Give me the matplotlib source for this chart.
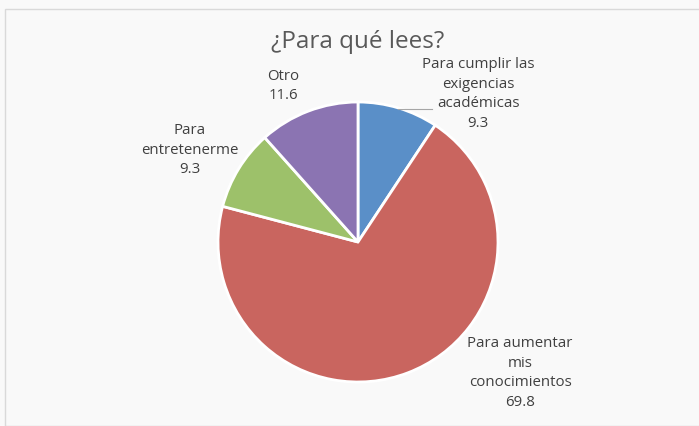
import matplotlib.pyplot as plt
from matplotlib.patches import Rectangle

labels = ["Para cumplir las\nexigencias\nacadémicas", "Para aumentar\nmis\nconocimientos", "Para\nentretenerme", "Otro"]
values = [9.3, 69.8, 9.3, 11.6]
colors = ["#5A8FC8", "#C9655F", "#9DC16A", "#8B74B2"]

W, H = 699, 427
fig = plt.figure(figsize=(W/100, H/100), dpi=100)
fig.patch.set_facecolor("#f9f9f9")
fig.patches.append(Rectangle((5/W, 0), 1, 1-10/H, transform=fig.transFigure,
                             fill=False, edgecolor="#d9d9d9", lw=1))
ax = fig.add_axes([0, 0, 1, 1])

cx, cy, r = 358, H-243, 140
wedges, _ = ax.pie(values, colors=colors, startangle=90, counterclock=False,
                   center=(cx, cy), radius=r, frame=True,
                   wedgeprops=dict(edgecolor="white", linewidth=2))
ax.set_xlim(0, W)
ax.set_ylim(0, H)
ax.set_aspect("equal")
ax.axis("off")

plt.rcParams['font.family'] = ['Open Sans', 'DejaVu Sans']
tcol = "#404040"
ax.text(358, H-42, "¿Para qué lees?", ha="center", va="center", fontsize=17.5, color="#595959")

# label centres (pixel coords from top)
pos = [(478, 94), (520, 373), (190, 150), (283, 86)]
for lab, v, (x, y) in zip(labels, values, pos):
    ax.text(x, H-y, lab + "\n" + str(v), ha="center", va="center", fontsize=10.8,
            color=tcol, linespacing=1.45)

# leader line for the first slice
ax.plot([398, 432], [H-110, H-110], color="#a6a6a6", lw=0.8)

fig.savefig("out.png", dpi=100, facecolor=fig.get_facecolor())
